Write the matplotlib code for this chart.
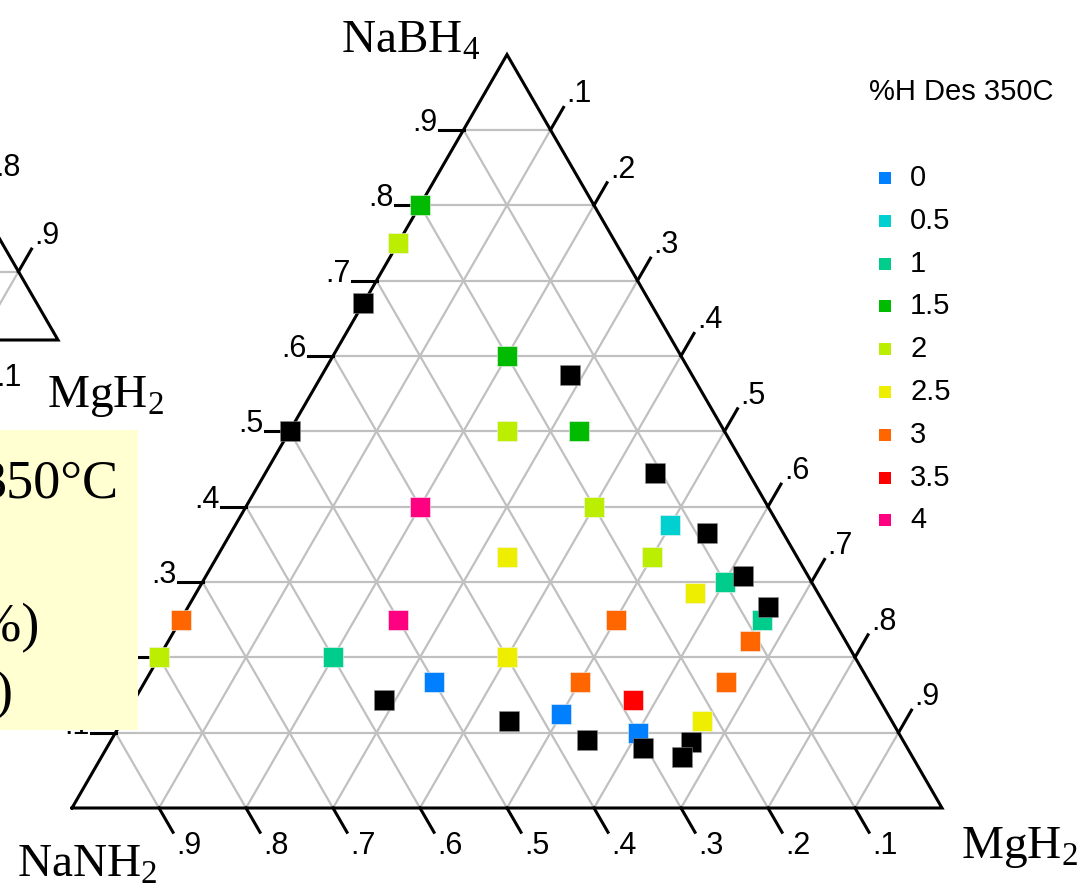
import matplotlib
matplotlib.use("Agg")
import matplotlib.pyplot as plt
from matplotlib.patches import Rectangle
import numpy as np

plt.rcParams["mathtext.fontset"] = "custom"
plt.rcParams["mathtext.rm"] = "Liberation Serif"

W, H = 1083, 890
SERIF = "Liberation Serif"
SANS = "Liberation Sans"

# H desorption levels (legend) and their colours
levels = ["0", "0.5", "1", "1.5", "2", "2.5", "3", "3.5", "4"]
level_colors = ["#0080ff", "#00d0d0", "#00cc8c", "#00bb00", "#bbee00",
                "#eeee00", "#ff6600", "#ff0000", "#ff0080"]

# compositions: NaBH4 fraction (top apex), MgH2 fraction (right apex), NaNH2 = rest
nabh4 = [0.80, 0.75, 0.67, 0.50, 0.25, 0.20, 0.60, 0.575, 0.50, 0.50,
         0.445, 0.40, 0.40, 0.375, 0.365, 0.333, 0.333, 0.30, 0.308, 0.286,
         0.267, 0.25, 0.25, 0.25, 0.222, 0.20, 0.20, 0.167, 0.167, 0.143,
         0.167, 0.143, 0.125, 0.115, 0.115, 0.09, 0.10, 0.08, 0.088, 0.068]
mgh2 = [0.0, 0.0, 0.0, 0.0, 0.0, 0.0, 0.20, 0.285, 0.25, 0.333,
        0.448, 0.20, 0.40, 0.50, 0.547, 0.333, 0.50, 0.60, 0.617, 0.573,
        0.667, 0.668, 0.50, 0.25, 0.668, 0.20, 0.40, 0.333, 0.50, 0.573,
        0.668, 0.287, 0.50, 0.445, 0.667, 0.547, 0.60, 0.616, 0.667, 0.667]
# measured %H desorbed at 350C; None = not measured (black)
h_des = ["1.5", "2", None, None, "3", "2", "1.5", None, "2", "1.5",
         None, "4", "2", "0.5", None, "2.5", "2", "1", None, "2.5",
         None, "1", "3", "4", "3", "1", "2.5", "0", "3", "3.5",
         "3", None, "0", None, "2.5", None, "0", None, None, None]

MAIN = (72, 808, 870)      # bottom-left vertex x, y and side length (px)
INSET = (-732, 340, 790)   # neighbouring plot, mostly cropped away


def to_xy(tri, a, b):
    x0, y0, s = tri
    h = s * np.sqrt(3) / 2
    return x0 + s * (np.asarray(b) + np.asarray(a) / 2), y0 - h * np.asarray(a)


def draw_triangle(ax, tri):
    grid = dict(color="#c0c0c0", lw=1.6, zorder=1)
    for k in range(1, 10):
        f = k / 10
        for (a1, b1), (a2, b2) in [((f, 0), (f, 1 - f)),
                                   ((0, f), (1 - f, f)),
                                   ((0, 1 - f), (1 - f, 0))]:
            x1, y1 = to_xy(tri, a1, b1)
            x2, y2 = to_xy(tri, a2, b2)
            ax.plot([x1, x2], [y1, y2], **grid)
    xs, ys = to_xy(tri, [0, 1, 0, 0], [0, 0, 1, 0])
    ax.plot(xs, ys, color="black", lw=2.2, zorder=3, solid_joinstyle="miter")
    tick = dict(color="black", lw=2.2, zorder=3)
    c60, s60 = np.cos(np.pi / 3), np.sin(np.pi / 3)
    for k in range(1, 10):
        f = k / 10
        lab = f".{k}"
        # left axis: NaBH4, horizontal ticks
        x, y = to_xy(tri, f, 0)
        ax.plot([x, x - 25], [y, y], **tick)
        ax.text(x - 26, y + 1, lab, ha="right", va="baseline",
                fontsize=22, family=SANS, zorder=4)
        # right axis: MgH2
        x, y = to_xy(tri, 1 - f, f)
        xe, ye = x + 26 * c60, y - 26 * s60
        ax.plot([x, xe], [y, ye], **tick)
        ax.text(xe + 3, ye + 2, lab, ha="left", va="bottom",
                fontsize=22, family=SANS, zorder=4)
        # bottom axis: NaNH2
        x, y = to_xy(tri, 0, 1 - f)
        xe, ye = x + 28 * c60, y + 28 * s60
        ax.plot([x, xe], [y, ye], **tick)
        ax.text(xe + 3, ye - 1, lab, ha="left", va="top",
                fontsize=22, family=SANS, zorder=4)


fig = plt.figure(figsize=(W / 100, H / 100), dpi=100)
ax = fig.add_axes([0, 0, 1, 1])
ax.set_xlim(0, W)
ax.set_ylim(H, 0)
ax.axis("off")

draw_triangle(ax, INSET)
draw_triangle(ax, MAIN)

# data points
a = np.array(nabh4)
b = np.array(mgh2)
px, py = to_xy(MAIN, a, b)
for lev, col in zip(levels, level_colors):
    m = np.array([h == lev for h in h_des])
    ax.scatter(px[m], py[m], s=225, marker="s", c=col,
               edgecolors="#f4f4f4", linewidths=0.4, zorder=5)
m = np.array([h is None for h in h_des])
ax.scatter(px[m], py[m], s=225, marker="s", c="black",
           edgecolors="#909090", linewidths=0.4, zorder=6)

# component labels
lab = dict(fontsize=34, family=SERIF, zorder=4)
ax.text(341, 52, r"NaBH$_{\mathrm{4}}$", ha="left", va="baseline", **lab)
ax.text(17, 877, r"NaNH$_{\mathrm{2}}$", ha="left", va="baseline", **lab)
ax.text(961, 858, r"MgH$_{\mathrm{2}}$", ha="left", va="baseline", **lab)
ax.text(47, 407, r"MgH$_{\mathrm{2}}$", ha="left", va="baseline", **lab)

# legend
ax.text(869, 92, "%H Des 350C", ha="left", va="center",
        fontsize=21, family=SANS)
for i, (lev, col) in enumerate(zip(levels, level_colors)):
    y = 178 + 42.8 * i
    ax.scatter([885], [y], s=85, marker="s", c=col, linewidths=0)
    ax.text(910, y, lev, ha="left", va="center", fontsize=21, family=SANS)

# overlapping note box (cropped)
ax.add_patch(Rectangle((0, 430), 138, 300, facecolor="#ffffd2",
                       edgecolor="none", zorder=10))
box = dict(fontsize=39, family=SERIF, zorder=11, ha="right", va="baseline")
ax.text(118, 497, "350°C", **box)
ax.text(40, 641, "(wt%)", **box)
ax.text(14, 708, "(x)", **box)

fig.savefig("out.png", dpi=100)
